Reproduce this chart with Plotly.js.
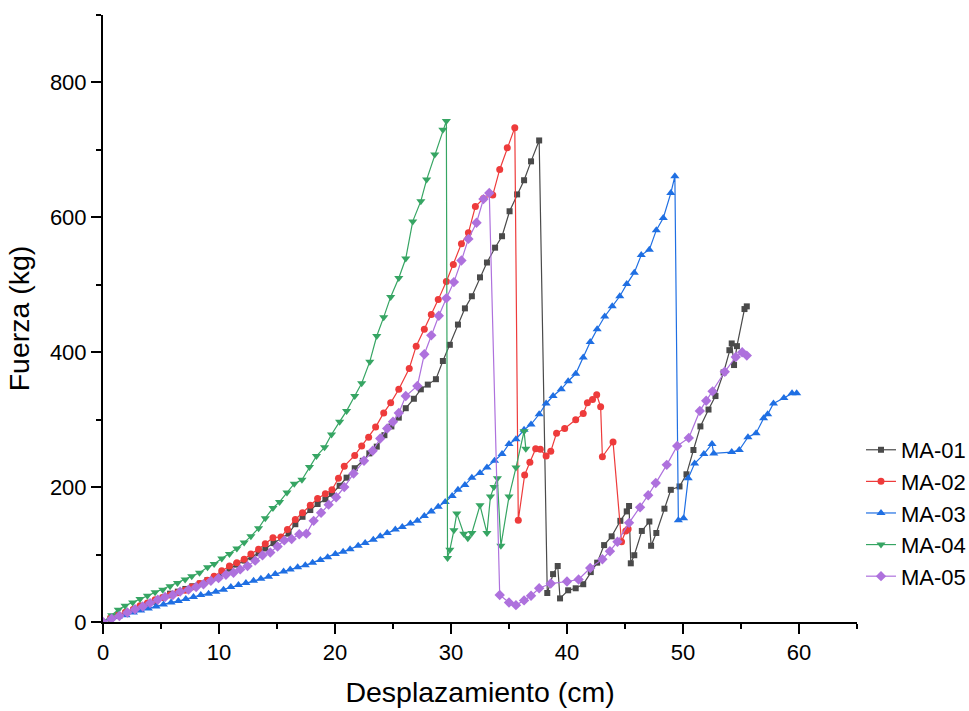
<!DOCTYPE html>
<html>
<head>
<meta charset="utf-8">
<script src="https://cdn.plot.ly/plotly-3.0.1.min.js"></script>
<style>html,body{margin:0;padding:0;background:#fff;}#chart{width:969px;height:711px;}</style>
</head>
<body>
<div id="chart"></div>
<script>
// ---- data (Desplazamiento cm, Fuerza kg) ----
const seriesNames = ["MA-01", "MA-02", "MA-03", "MA-04", "MA-05"];

const ma01_x = [0,0.65,1.3,1.95,2.6,3.2,3.85,4.5,5.15,5.78,6.45,7.1,7.7,8.35,9.0,9.6,10.24,10.9,11.5,12.2,12.8,13.41,13.99,14.7,15.43,16.0,16.58,17.2,17.87,18.5,19.17,19.74,20.4,21.0,21.7,22.4,22.96,23.6,24.26,24.86,25.5,26.1,26.8,27.4,28.0,28.7,29.3,29.9,30.6,31.2,31.8,32.5,33.1,33.8,34.4,35.05,35.7,36.3,36.9,37.6,38.3,38.8,39.2,39.4,40.1,40.75,41.4,42.05,42.6,43.2,43.85,44.6,45.15,45.35,45.5,45.8,46.45,47.1,47.25,47.7,48.4,48.95,49.7,50.3,50.9,51.5,52.2,52.8,53.5,54.0,54.2,54.4,54.65,55.3,55.5];
const ma01_y = [0,5,9,13,17,21,25,30,36,42,45,49,53,57,62,66,72,79,85,91,96,102,109,117,124,131,145,156,166,175,182,190,202,214,228,239,250,260,277,290,303,317,331,345,352,360,387,411,441,465,483,511,533,555,572,609,634,655,683,714,43,71,83,35,47,50,56,74,88,114,127,150,164,172,87,99,135,149,113,132,168,196,201,219,255,290,315,335,370,403,413,381,409,464,468];

const ma02_x = [0,0.66,1.3,1.95,2.62,3.19,3.83,4.49,5.15,5.78,6.42,7.08,7.65,8.32,9.0,9.58,10.24,10.9,11.54,12.17,12.75,13.41,13.99,14.65,15.34,15.9,16.58,17.2,17.87,18.5,19.17,19.74,20.3,20.8,21.7,22.3,22.9,23.5,24.2,24.8,25.5,26.4,27.0,27.7,28.3,28.9,29.6,30.2,30.9,31.5,32.1,32.8,33.6,34.2,34.85,35.5,35.8,36.35,36.8,37.3,37.7,38.2,38.6,39.1,39.8,40.75,41.4,41.76,42.2,42.56,42.9,43.05,43.97,44.7,45.07,45.27];
const ma02_y = [0,6,11,15,19,24,28,33,36.5,40,43.5,47,52,57,62,68,76,83,88,93,101,108,116,125,126,137,152,162,173,183,190,196,213,231,247,261,274,289,310,325,345,376,409,434,456,478,505,530,561,577,616,628,633,671,703,733,151,218,237,257,256,246,253,280,287,300,309,325,330,337,319,245,267,119,135,138];

const ma03_x = [0,0.66,1.32,1.98,2.62,3.25,3.91,4.58,5.21,5.87,6.5,7.14,7.8,8.43,9.1,9.73,10.39,11.02,11.68,12.32,12.98,13.61,14.27,14.85,15.57,16.14,16.78,17.44,18.07,18.74,19.37,20.03,20.7,21.3,22.0,22.6,23.3,23.9,24.5,25.2,25.8,26.5,27.1,27.7,28.3,28.9,29.5,30.1,30.6,31.2,31.8,32.5,33.1,33.75,34.4,35.0,35.6,36.3,36.9,37.6,38.2,38.8,39.5,40.1,40.75,41.4,42.0,42.6,43.25,43.9,44.55,45.15,45.8,46.4,47.1,47.7,48.3,48.95,49.3,49.6,50.05,50.45,51.0,51.8,52.5,52.65,54.2,54.85,55.6,56.3,56.95,57.3,57.8,58.7,59.4,59.8];
const ma03_y = [0,5,8,10,14,17,20,23,26,29,31,34,37,40,42,45,48,52,55,58,61,64,67,71,75,78,81,84,88,92,96,101,104,108,113,117,122,127,132,137,141,146,150,157,164,171,178,187,196,203,214,221,229,239,249,264,271,285,293,308,324,335,345,357,368,392,415,434,453,468,483,501,518,544,552,581,599,636,661,151,154,213,235,249,264,250,252,255,274,280,302,308,324,332,339,339];

const ma04_x = [0,0.75,1.32,1.9,2.56,3.19,3.83,4.49,5.15,5.78,6.42,7.08,7.65,8.32,9.01,9.58,10.24,10.9,11.54,12.17,12.75,13.41,13.99,14.65,15.22,15.86,16.49,17.15,17.8,18.4,19.1,19.7,20.4,21.0,21.7,22.3,23.0,23.6,24.2,24.8,25.5,26.1,26.7,27.4,27.9,28.6,29.3,29.6,29.7,29.9,30.25,30.5,31.1,31.45,31.8,32.5,33.1,33.4,33.7,34.0,34.3,35.0,35.6,36.3,36.45];
const ma04_y = [0,10,18,24,29,34,39,44,48,53,58,63,68,73,81,86,94,101,109,118,127,139,154,169,178,192,205,211,230,246,259,278,297,313,335,354,386,424,452,482,510,539,594,624,656,693,730,743,95,107,136,161,131,124,132,173,132,186,200,213,113,186,229,283,257];

const ma05_x = [0,0.75,1.41,2.1,2.76,3.43,4.06,4.72,5.35,6.02,6.65,7.37,8.03,8.66,9.3,9.96,10.6,11.25,11.83,12.46,13.12,13.75,14.42,15.05,15.63,16.26,16.92,17.53,18.16,18.8,19.45,20.1,20.8,21.6,22.5,23.25,23.9,24.5,25.0,25.5,26.1,27.1,27.7,28.3,28.95,29.6,30.25,30.9,31.5,32.2,32.8,33.3,34.2,35.0,35.6,36.3,36.9,37.6,38.6,40.0,41.0,42.0,43.05,43.7,44.35,45.35,46.3,47.0,47.65,48.6,49.5,50.5,51.45,52.0,52.55,53.6,54.55,55.1,55.5];
const ma05_y = [0,5,9,14,19,23,28,33,37,40,45,48,52,56,61,65,70,73,78,83,91,99,103,112,121,123,130,131,150,162,174,185,200,220,239,254,272,287,297,310,335,350,397,425,454,480,504,536,568,592,627,636,40,29,25,32,39,50,57,60,63,80,93,105,119,147,170,188,206,233,261,273,313,328,342,371,393,400,395];

const xTickVals = [0, 10, 20, 30, 40, 50, 60];
const yTickVals = [0, 200, 400, 600, 800];
const xTitle = "Desplazamiento (cm)";
const yTitle = "Fuerza (kg)";

// ---- styles ----
const colors = ["#4a4a4a", "#EE3B3B", "#1F6FE3", "#36A563", "#AE71DD"];
const symbols = ["square", "circle", "triangle-up", "triangle-down", "diamond"];
const sizes = [6, 7, 8, 8, 8];
const xs = [ma01_x, ma02_x, ma03_x, ma04_x, ma05_x];
const ys = [ma01_y, ma02_y, ma03_y, ma04_y, ma05_y];

const traces = seriesNames.map((name, i) => ({
  type: "scatter",
  mode: "lines+markers",
  name: name,
  x: xs[i],
  y: ys[i],
  line: {color: colors[i], width: 1.2},
  marker: {color: colors[i], symbol: symbols[i], size: sizes[i], line: {width: 0}}
}));

const FONT = "Arial, 'Liberation Sans', sans-serif";
const axisCommon = {
  showline: true, linecolor: "#000", linewidth: 2,
  ticks: "outside", ticklen: 10, tickwidth: 2, tickcolor: "#000",
  showgrid: false, zeroline: false,
  tickfont: {family: FONT, size: 22, color: "#000"}
};

const layout = {
  width: 969, height: 711,
  paper_bgcolor: "#fff", plot_bgcolor: "#fff",
  margin: {l: 103, r: 112, t: 15, b: 89, autoexpand: false},
  font: {family: FONT, color: "#000"},
  showlegend: true,
  legend: {
    x: 1.0053, xanchor: "left", y: 0.318, yanchor: "top",
    font: {family: FONT, size: 22, color: "#000"},
    bgcolor: "rgba(0,0,0,0)", tracegroupgap: 0, itemwidth: 30
  },
  xaxis: Object.assign({}, axisCommon, {
    range: [0, 65], tickvals: xTickVals, ticktext: xTickVals.map(String),
    minor: {dtick: 5, tick0: 0, ticks: "outside", ticklen: 5, tickwidth: 2, tickcolor: "#000", showgrid: false},
    title: {text: xTitle, font: {family: FONT, size: 28.5, color: "#000"}, standoff: 18}
  }),
  yaxis: Object.assign({}, axisCommon, {
    range: [0, 900], tickvals: yTickVals, ticktext: yTickVals.map(String),
    minor: {dtick: 100, tick0: 0, ticks: "outside", ticklen: 5, tickwidth: 2, tickcolor: "#000", showgrid: false},
    title: {text: yTitle, font: {family: FONT, size: 28.5, color: "#000"}, standoff: 12}
  })
};

Plotly.newPlot("chart", traces, layout, {displayModeBar: false, staticPlot: true});
</script>
</body>
</html>
